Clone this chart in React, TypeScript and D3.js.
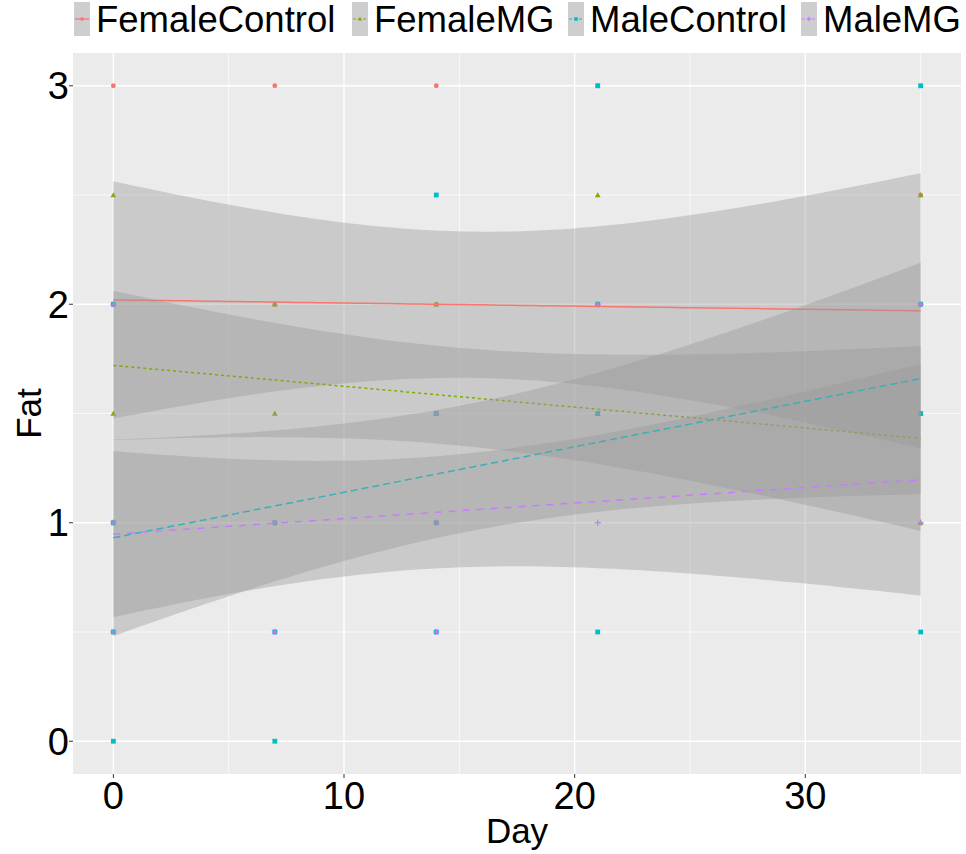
import React from "react";
import * as d3 from "d3";

const groups = ["FemaleControl", "FemaleMG", "MaleControl", "MaleMG"];
const groupColors = ["#F8766D", "#7CAE00", "#00BFC4", "#C77CFF"];
const groupShapes = ["circle", "triangle", "square", "plus"];
const groupDash = ["none", "3,3", "7,4", "7,7"];

const xTicks = [0, 10, 20, 30];
const yTicks = [0, 1, 2, 3];

// observed points [day, fat]
const femaleControlPts: [number, number][] = [
  [0, 3], [0, 2], [0, 1], [7, 3], [7, 2], [14, 3], [14, 2], [21, 3], [21, 2], [35, 2], [35, 2.5],
];
const femaleMGPts: [number, number][] = [
  [0, 2.5], [0, 1.5], [7, 2], [7, 1.5], [14, 2], [14, 1.5], [21, 2.5], [21, 1.5], [35, 2.5], [35, 1.5], [35, 1],
];
const maleControlPts: [number, number][] = [
  [0, 2], [0, 1], [0, 0.5], [0, 0], [7, 1], [7, 0.5], [7, 0], [14, 2.5], [14, 1.5], [14, 1], [14, 0.5],
  [21, 3], [21, 2], [21, 1.5], [21, 0.5], [35, 3], [35, 2], [35, 1.5], [35, 0.5],
];
const maleMGPts: [number, number][] = [
  [0, 2], [0, 1], [0, 0.5], [7, 1], [7, 0.5], [14, 1.5], [14, 1], [14, 0.5], [21, 2], [21, 1], [35, 2], [35, 1],
];
const groupPoints = [femaleControlPts, femaleMGPts, maleControlPts, maleMGPts];

// linear fit values at day 0 and day 35
const fitAt0 = [2.02, 1.72, 0.931, 0.948];
const fitAt35 = [1.97, 1.386, 1.66, 1.197];
// confidence band half-widths at day 0, day 14, day 35
const ciHalf0 = [0.543, 0.342, 0.45, 0.38];
const ciHalf14 = [0.3375, 0.224, 0.293, 0.2565];
const ciHalf35 = [0.63, 0.4235, 0.53, 0.53];

const W = 966;
const H = 854;
const panel = { left: 73, right: 961, top: 53, bottom: 774 };

const x = d3.scaleLinear().domain([-1.75, 36.75]).range([panel.left, panel.right]);
const y = d3.scaleLinear().domain([-0.15, 3.15]).range([panel.bottom, panel.top]);

const FONT = "'Liberation Sans', Arial, sans-serif";

function halfWidth(g: number, d: number) {
  // hw^2 is quadratic in x for a linear-model CI; fit through three read values
  const x0 = 0, x1 = 14, x2 = 35;
  const y0 = ciHalf0[g] ** 2, y1 = ciHalf14[g] ** 2, y2 = ciHalf35[g] ** 2;
  const v =
    (y0 * (d - x1) * (d - x2)) / ((x0 - x1) * (x0 - x2)) +
    (y1 * (d - x0) * (d - x2)) / ((x1 - x0) * (x1 - x2)) +
    (y2 * (d - x0) * (d - x1)) / ((x2 - x0) * (x2 - x1));
  return Math.sqrt(Math.max(v, 0));
}

function fit(g: number, d: number) {
  return fitAt0[g] + ((fitAt35[g] - fitAt0[g]) * d) / 35;
}

function Marker({ shape, cx, cy, color, s = 2.4 }: any) {
  if (shape === "circle") return <circle cx={cx} cy={cy} r={s} fill={color} />;
  if (shape === "square") return <rect x={cx - s} y={cy - s} width={2 * s} height={2 * s} fill={color} />;
  if (shape === "triangle") {
    const p = `${cx},${cy - s * 1.2} ${cx - s * 1.2},${cy + s * 0.9} ${cx + s * 1.2},${cy + s * 0.9}`;
    return <polygon points={p} fill={color} />;
  }
  return (
    <g stroke={color} strokeWidth={1.2}>
      <line x1={cx - s * 1.3} x2={cx + s * 1.3} y1={cy} y2={cy} />
      <line x1={cx} x2={cx} y1={cy - s * 1.3} y2={cy + s * 1.3} />
    </g>
  );
}

export default function App() {
  const xs = d3.range(0, 80).map((i) => (35 * i) / 79);
  const area = d3
    .area<[number, number, number]>()
    .x((d) => x(d[0]))
    .y0((d) => y(d[1]))
    .y1((d) => y(d[2]));
  const line = d3
    .line<[number, number]>()
    .x((d) => x(d[0]))
    .y((d) => y(d[1]));

  const xMinor = [5, 15, 25, 35];
  const yMinor = [0.5, 1.5, 2.5];
  const legendX = [74, 352, 568, 801];

  return (
    <svg width={W} height={H} style={{ position: "absolute", left: 0, top: 0 }} fontFamily={FONT}>
      <rect x={0} y={0} width={W} height={H} fill="#ffffff" />
      <rect x={panel.left} y={panel.top} width={panel.right - panel.left} height={panel.bottom - panel.top} fill="#EBEBEB" />
      {xMinor.map((t) => (
        <line key={"xm" + t} x1={x(t)} x2={x(t)} y1={panel.top} y2={panel.bottom} stroke="#fff" strokeWidth={0.7} />
      ))}
      {yMinor.map((t) => (
        <line key={"ym" + t} x1={panel.left} x2={panel.right} y1={y(t)} y2={y(t)} stroke="#fff" strokeWidth={0.7} />
      ))}
      {xTicks.map((t) => (
        <line key={"xM" + t} x1={x(t)} x2={x(t)} y1={panel.top} y2={panel.bottom} stroke="#fff" strokeWidth={1.4} />
      ))}
      {yTicks.map((t) => (
        <line key={"yM" + t} x1={panel.left} x2={panel.right} y1={y(t)} y2={y(t)} stroke="#fff" strokeWidth={1.4} />
      ))}

      {groupPoints.map((pts, g) =>
        pts.map((p, i) => (
          <Marker key={g + "-" + i} shape={groupShapes[g]} cx={x(p[0])} cy={y(p[1])} color={groupColors[g]} />
        ))
      )}

      {groups.map((name, g) => {
        const band = xs.map((d) => [d, fit(g, d) - halfWidth(g, d), fit(g, d) + halfWidth(g, d)] as [number, number, number]);
        const ln = xs.map((d) => [d, fit(g, d)] as [number, number]);
        return (
          <g key={name}>
            <path d={area(band) || ""} fill="#999999" fillOpacity={0.4} />
            <path d={line(ln) || ""} fill="none" stroke={groupColors[g]} strokeWidth={1.5} strokeDasharray={groupDash[g]} />
          </g>
        );
      })}

      {/* axes ticks */}
      {xTicks.map((t) => (
        <g key={"xt" + t}>
          <line x1={x(t)} x2={x(t)} y1={panel.bottom} y2={panel.bottom + 4} stroke="#333" strokeWidth={1} />
          <text x={x(t)} y={809} textAnchor="middle" fontSize={38} fill="#000">
            {t}
          </text>
        </g>
      ))}
      {yTicks.map((t) => (
        <g key={"yt" + t}>
          <line x1={panel.left - 4} x2={panel.left} y1={y(t)} y2={y(t)} stroke="#333" strokeWidth={1} />
          <text x={69} y={y(t) + 13.5} textAnchor="end" fontSize={38} fill="#000">
            {t}
          </text>
        </g>
      ))}
      <text x={(panel.left + panel.right) / 2} y={843} textAnchor="middle" fontSize={35} fill="#000">
        Day
      </text>
      <text transform={`translate(41,${(panel.top + panel.bottom) / 2}) rotate(-90)`} textAnchor="middle" fontSize={35} fill="#000">
        Fat
      </text>

      {/* legend */}
      {groups.map((name, g) => {
        const lx = legendX[g];
        return (
          <g key={"lg" + name}>
            <rect x={lx} y={2} width={16} height={34} fill="#CECECE" />
            <line x1={lx + 1} x2={lx + 15} y1={19} y2={19} stroke={groupColors[g]} strokeWidth={1.2} strokeDasharray={g === 0 ? "none" : "3,2"} />
            <Marker shape={groupShapes[g]} cx={lx + 8} cy={19} color={groupColors[g]} s={1.8} />
            <text x={lx + 22} y={32} fontSize={36.5} fill="#000">
              {name}
            </text>
          </g>
        );
      })}
    </svg>
  );
}
